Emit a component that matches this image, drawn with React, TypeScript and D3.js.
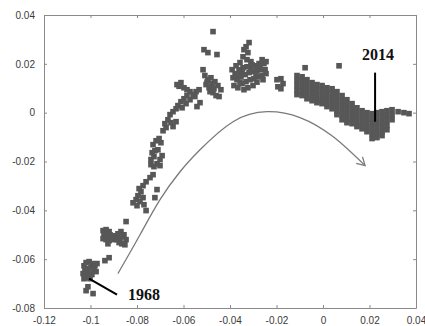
import React, { useRef, useEffect } from "react";
import * as d3 from "d3";

const xTicks = [-0.12, -0.1, -0.08, -0.06, -0.04, -0.02, 0, 0.02, 0.04];
const yTicks = [-0.08, -0.06, -0.04, -0.02, 0, 0.02, 0.04];

// start of the series (around 1968)
const lowBranch: [number, number][] = [
  [-0.1028, -0.0627], [-0.1019, -0.0614], [-0.1006, -0.061], [-0.0994, -0.0618], [-0.0981, -0.0627],
  [-0.1024, -0.0643], [-0.1011, -0.0639], [-0.0998, -0.0635], [-0.0985, -0.0643], [-0.1032, -0.0659],
  [-0.1019, -0.0655], [-0.1006, -0.0659], [-0.0994, -0.0663], [-0.0976, -0.0651], [-0.1015, -0.0676],
  [-0.1002, -0.068], [-0.1028, -0.068], [-0.0972, -0.0618], [-0.1011, -0.0713], [-0.1019, -0.0729],
  [-0.0989, -0.0741], [-0.0938, -0.0606], [-0.092, -0.0594],
  [-0.0946, -0.0483], [-0.0933, -0.0479], [-0.092, -0.0487], [-0.0942, -0.05], [-0.0929, -0.0504],
  [-0.0916, -0.05], [-0.0946, -0.0516], [-0.0933, -0.052], [-0.092, -0.0524], [-0.0908, -0.0512],
  [-0.0895, -0.0504], [-0.0882, -0.0496], [-0.0869, -0.0487], [-0.0899, -0.052], [-0.0886, -0.052],
  [-0.0873, -0.0516], [-0.086, -0.0508], [-0.0847, -0.052], [-0.0877, -0.0532], [-0.0865, -0.0537],
  [-0.0852, -0.0541], [-0.0925, -0.0537], [-0.0856, -0.05], [-0.0847, -0.0446],
];

// the climb
const risingBranch: [number, number][] = [
  [-0.0817, -0.0369], [-0.0804, -0.0356], [-0.0796, -0.034], [-0.0787, -0.0364], [-0.08, -0.0381],
  [-0.0774, -0.0348], [-0.0783, -0.0324], [-0.077, -0.0377], [-0.0761, -0.0401], [-0.0723, -0.0348],
  [-0.0791, -0.0311], [-0.0774, -0.0299], [-0.0761, -0.0283], [-0.0744, -0.0266], [-0.0731, -0.0254],
  [-0.0714, -0.0315],
  [-0.074, -0.0213], [-0.0727, -0.0221], [-0.0714, -0.0209], [-0.0701, -0.0217], [-0.074, -0.0192],
  [-0.0727, -0.018], [-0.0701, -0.0192], [-0.0692, -0.0176], [-0.0735, -0.0164], [-0.0723, -0.0156],
  [-0.071, -0.0152], [-0.0731, -0.0131], [-0.0718, -0.0115], [-0.0705, -0.0106], [-0.0697, -0.0123],
  [-0.0688, -0.0074], [-0.0675, -0.0061], [-0.068, -0.0045], [-0.0667, -0.0029], [-0.0654, -0.0041],
  [-0.0645, -0.0057], [-0.0632, -0.0037], [-0.0658, -0.0008], [-0.0645, 0.0004], [-0.0632, 0.0016],
  [-0.0624, 0.0029], [-0.0611, 0.0045], [-0.0598, 0.0057], [-0.0585, 0.007], [-0.0606, 0.002],
  [-0.0589, 0.0037], [-0.0572, 0.0053], [-0.0559, 0.0074], [-0.0546, 0.0086], [-0.0533, 0.0094],
  [-0.0628, 0.0115], [-0.0611, 0.0123], [-0.0598, 0.0102], [-0.0572, 0.0086], [-0.0551, 0.0066],
  [-0.0529, 0.0041], [-0.0542, 0.0025], [-0.0619, 0.0108], [-0.0585, 0.0094],
  [-0.0516, 0.0176], [-0.0508, 0.0152], [-0.0495, 0.0135], [-0.0482, 0.0143], [-0.0503, 0.0115],
  [-0.049, 0.0102], [-0.0477, 0.0119], [-0.0465, 0.0127], [-0.0452, 0.0111], [-0.0439, 0.0094],
  [-0.0473, 0.0082], [-0.046, 0.007], [-0.0447, 0.0066], [-0.0486, 0.0086], [-0.0495, 0.0246],
  [-0.0512, 0.0258], [-0.0456, 0.0238], [-0.0473, 0.0332], [-0.0469, 0.0098], [-0.0499, 0.0125],
];

// top of the arc
const peakCluster: [number, number][] = [
  [-0.0318, 0.0287], [-0.0331, 0.027], [-0.034, 0.0258], [-0.0323, 0.0246], [-0.0344, 0.0229],
  [-0.0327, 0.0217], [-0.031, 0.0209], [-0.0357, 0.0205], [-0.0374, 0.0192], [-0.0391, 0.0176],
  [-0.0378, 0.016], [-0.0361, 0.0176], [-0.0344, 0.0184], [-0.0327, 0.0188], [-0.031, 0.0184],
  [-0.0292, 0.0192], [-0.0275, 0.0201], [-0.0262, 0.0217], [-0.0254, 0.0201], [-0.0387, 0.0143],
  [-0.037, 0.0135], [-0.0353, 0.0147], [-0.0335, 0.0156], [-0.0318, 0.0164], [-0.0301, 0.0168],
  [-0.0284, 0.0172], [-0.0267, 0.0176], [-0.0249, 0.0176], [-0.0383, 0.0111], [-0.0366, 0.0102],
  [-0.0348, 0.0119], [-0.0331, 0.0127], [-0.0314, 0.0135], [-0.0297, 0.0139], [-0.028, 0.0147],
  [-0.0262, 0.0152], [-0.0323, 0.0102], [-0.034, 0.0094], [-0.0301, 0.0111], [-0.0245, 0.0209],
  [-0.0245, 0.016], [-0.0258, 0.0135], [-0.0198, 0.0135], [-0.0181, 0.0139], [-0.0172, 0.0119],
  [-0.0194, 0.0106], [-0.0181, 0.0098],
  [-0.0366, 0.0156], [-0.0348, 0.0164], [-0.0288, 0.0156], [-0.0271, 0.0189], [-0.0305, 0.0196],
  [-0.0357, 0.0125], [-0.0284, 0.0125],
];

// the long tail up to 2014
const recentBand: [number, number][] = [
  [-0.0112, 0.0152], [-0.0112, 0.0131], [-0.0112, 0.0111], [-0.0112, 0.009], [-0.0112, 0.0074],
  [-0.009, 0.0147], [-0.009, 0.0127], [-0.009, 0.0106], [-0.009, 0.0086], [-0.009, 0.007],
  [-0.0069, 0.0135], [-0.0069, 0.0115], [-0.0069, 0.0094], [-0.0069, 0.0074], [-0.0069, 0.0057],
  [-0.0047, 0.0123], [-0.0047, 0.0102], [-0.0047, 0.0082], [-0.0047, 0.0061], [-0.0047, 0.0049],
  [-0.0026, 0.0115], [-0.0026, 0.0094], [-0.0026, 0.0074], [-0.0026, 0.0053], [-0.0026, 0.0041],
  [-0.0004, 0.0111], [-0.0004, 0.009], [-0.0004, 0.007], [-0.0004, 0.0049], [-0.0004, 0.0037],
  [0.0017, 0.0102], [0.0017, 0.0082], [0.0017, 0.0061], [0.0017, 0.0041], [0.0017, 0.0025],
  [0.0039, 0.0098], [0.0039, 0.0078], [0.0039, 0.0057], [0.0039, 0.0037], [0.0039, 0.0016],
  [0.006, 0.0086], [0.006, 0.0066], [0.006, 0.0045], [0.006, 0.0025], [0.006, 0.0004], [0.006, -0.0008],
  [0.0082, 0.007], [0.0082, 0.0049], [0.0082, 0.0029], [0.0082, 0.0008], [0.0082, -0.0012], [0.0082, -0.0029],
  [0.0103, 0.0053], [0.0103, 0.0033], [0.0103, 0.0012], [0.0103, -0.0008], [0.0103, -0.0029], [0.0103, -0.0041],
  [0.0125, 0.0037], [0.0125, 0.0016], [0.0125, -0.0004], [0.0125, -0.0025], [0.0125, -0.0045],
  [0.0146, 0.002], [0.0146, 0.0], [0.0146, -0.002], [0.0146, -0.0041], [0.0146, -0.0057],
  [0.0168, 0.0008], [0.0168, -0.0012], [0.0168, -0.0033], [0.0168, -0.0053], [0.0168, -0.0066],
  [0.0189, 0.0], [0.0189, -0.002], [0.0189, -0.0041], [0.0189, -0.0061], [0.0189, -0.0078],
  [0.0211, -0.0004], [0.0211, -0.0025], [0.0211, -0.0045], [0.0211, -0.0066], [0.0211, -0.0086], [0.0211, -0.0106],
  [0.0232, 0.0], [0.0232, -0.002], [0.0232, -0.0041], [0.0232, -0.0061], [0.0232, -0.0082], [0.0232, -0.0102],
  [0.0254, 0.0004], [0.0254, -0.0016], [0.0254, -0.0037], [0.0254, -0.0057], [0.0254, -0.0078], [0.0254, -0.0094],
  [0.0275, 0.0008], [0.0275, -0.0012], [0.0275, -0.0033], [0.0275, -0.0053], [0.0275, -0.007],
  [0.0297, 0.0012], [0.0297, -0.0008], [0.0297, -0.0029],
  [0.0323, 0.0004], [0.0348, 0.0], [0.037, -0.0004],
  [-0.0077, 0.0184], [0.0069, 0.0192],
];

const trendArrow: [number, number][] = [
  [-0.0882, -0.0659], [-0.0787, -0.05], [-0.0701, -0.0356], [-0.0615, -0.0242], [-0.0529, -0.0152],
  [-0.0387, -0.0037], [-0.0241, 0.0004], [-0.0099, -0.002], [0.0043, -0.0098], [0.0181, -0.0217],
];

const yearLabels = [
  { text: "1968", pos: [-0.0839, -0.0766], anchor: "start", from: [-0.1006, -0.068], to: [-0.0886, -0.0745] },
  { text: "2014", pos: [0.0237, 0.0217], anchor: "middle", from: [0.0224, 0.0164], to: [0.0224, -0.0037] },
];

const W = 425;
const H = 326;
const margin = { top: 15, right: 9, bottom: 18, left: 44 };

function App() {
  const ref = useRef<SVGSVGElement>(null);

  useEffect(() => {
    const svg = d3.select(ref.current);
    svg.selectAll("*").remove();

    const x = d3.scaleLinear().domain([-0.12, 0.04]).range([margin.left, W - margin.right]);
    const y = d3.scaleLinear().domain([-0.08, 0.04]).range([H - margin.bottom, margin.top]);
    const fmt = (d: d3.NumberValue) => String(+(+d).toFixed(2));

    const all = [...lowBranch, ...risingBranch, ...peakCluster, ...recentBand];
    const s = 5.6;
    svg.append("g")
      .selectAll("rect")
      .data(all)
      .enter()
      .append("rect")
      .attr("x", (d) => x(d[0]) - s / 2)
      .attr("y", (d) => y(d[1]) - s / 2)
      .attr("width", s)
      .attr("height", s)
      .attr("fill", "#575757");

    // curved arrow
    const defs = svg.append("defs");
    defs.append("marker")
      .attr("id", "head")
      .attr("viewBox", "-10 -6 12 12")
      .attr("markerWidth", 12)
      .attr("markerHeight", 12)
      .attr("markerUnits", "userSpaceOnUse")
      .attr("orient", "auto")
      .append("path")
      .attr("d", "M-8,-4.5L0,0L-8,4.5")
      .attr("fill", "none")
      .attr("stroke", "#7a7a7a")
      .attr("stroke-width", 1.3);

    const line = d3.line<[number, number]>()
      .x((d) => x(d[0]))
      .y((d) => y(d[1]))
      .curve(d3.curveNatural);
    svg.append("path")
      .attr("d", line(trendArrow))
      .attr("fill", "none")
      .attr("stroke", "#7a7a7a")
      .attr("stroke-width", 1.3)
      .attr("marker-end", "url(#head)");

    // year annotations
    yearLabels.forEach((l) => {
      svg.append("line")
        .attr("x1", x(l.from[0])).attr("y1", y(l.from[1]))
        .attr("x2", x(l.to[0])).attr("y2", y(l.to[1]))
        .attr("stroke", "#000")
        .attr("stroke-width", 2);
      svg.append("text")
        .attr("x", x(l.pos[0]))
        .attr("y", y(l.pos[1]))
        .attr("text-anchor", l.anchor)
        .style("font-family", "'Liberation Serif', 'Times New Roman', serif")
        .style("font-weight", "bold")
        .style("font-size", "16px")
        .attr("fill", "#111")
        .text(l.text);
    });

    // frame and ticks
    const axisColor = "#8a8a8a";
    const style = (g: d3.Selection<SVGGElement, unknown, null, undefined>) => {
      g.select(".domain").attr("stroke", axisColor);
      g.selectAll(".tick line").attr("stroke", axisColor);
      g.selectAll(".tick text")
        .attr("fill", "#3a3a3a")
        .style("font-family", "'Liberation Sans', Arial, sans-serif")
        .style("font-size", "10px");
    };

    svg.append("g")
      .attr("transform", `translate(0,${H - margin.bottom})`)
      .call(d3.axisBottom(x).tickValues(xTicks).tickFormat(fmt).tickSizeInner(-3).tickSizeOuter(0).tickPadding(9))
      .call(style);
    svg.append("g")
      .attr("transform", `translate(${margin.left},0)`)
      .call(d3.axisLeft(y).tickValues(yTicks).tickFormat(fmt).tickSizeInner(-3).tickSizeOuter(0).tickPadding(9))
      .call(style);
    svg.append("g")
      .attr("transform", `translate(0,${margin.top})`)
      .call(d3.axisTop(x).tickValues(xTicks).tickFormat(() => "").tickSizeInner(-3).tickSizeOuter(0))
      .call(style);
    svg.append("g")
      .attr("transform", `translate(${W - margin.right},0)`)
      .call(d3.axisRight(y).tickValues(yTicks).tickFormat(() => "").tickSizeInner(-3).tickSizeOuter(0))
      .call(style);
  }, []);

  return (
    <svg
      ref={ref}
      width={W}
      height={H}
      style={{ position: "absolute", left: 0, top: 0, background: "#fff" }}
    ></svg>
  );
}

export default App;
